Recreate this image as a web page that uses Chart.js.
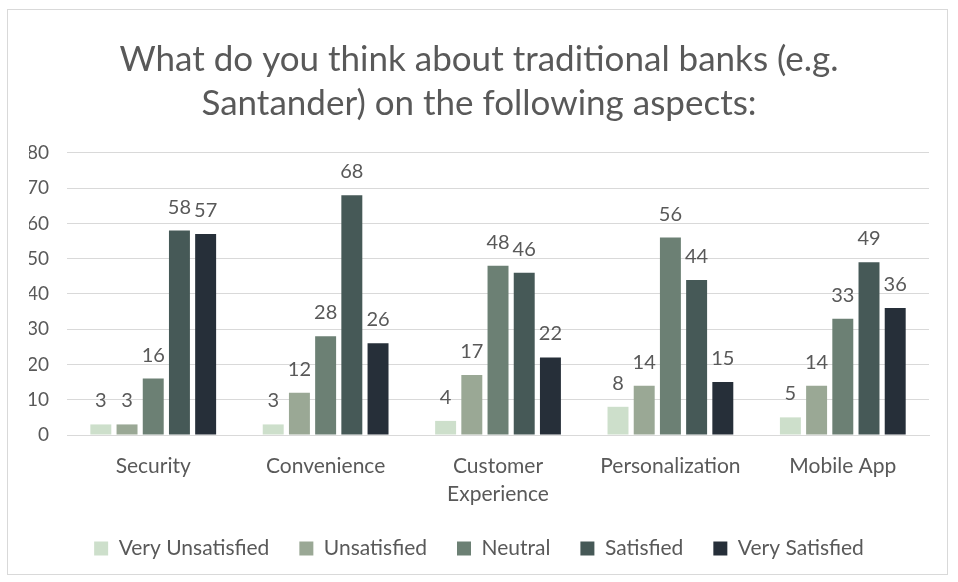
<!DOCTYPE html>
<html>
<head>
<meta charset="utf-8">
<script src="https://cdn.jsdelivr.net/npm/chart.js@4"></script>
<style>
  html, body { margin: 0; padding: 0; background: #fff; }
  #wrap { position: absolute; left: 0; top: 0; width: 958px; height: 582px; }
</style>
</head>
<body>
<div id="wrap"><canvas id="canvas"></canvas></div>
<script>
  const aspects = ['Security', 'Convenience', ['Customer', 'Experience'], 'Personalization', 'Mobile App'];
  const veryUnsatisfied = [3, 3, 4, 8, 5];
  const unsatisfied = [3, 12, 17, 14, 14];
  const neutral = [16, 28, 48, 56, 33];
  const satisfied = [58, 68, 46, 44, 49];
  const verySatisfied = [57, 26, 22, 15, 36];
  const yTicks = [0, 10, 20, 30, 40, 50, 60, 70, 80];

  const textColor = '#595959';
  const fontFamily = 'Lato, "Open Sans", sans-serif';

  // light frame round the whole chart
  const framePlugin = {
    id: 'frame',
    beforeDraw: function (chart) {
      const ctx = chart.ctx;
      ctx.save();
      ctx.strokeStyle = '#d9d9d9';
      ctx.lineWidth = 1;
      ctx.strokeRect(7.5, 9.5, 940, 565);
      ctx.restore();
    },
  };

  // value written above each bar
  const valuePlugin = {
    id: 'values',
    afterDatasetsDraw: function (chart) {
      const ctx = chart.ctx;
      ctx.save();
      ctx.fillStyle = textColor;
      ctx.font = '20px ' + fontFamily;
      ctx.textAlign = 'center';
      ctx.textBaseline = 'alphabetic';
      chart.data.datasets.forEach(function (ds, i) {
        const meta = chart.getDatasetMeta(i);
        meta.data.forEach(function (bar, j) {
          ctx.fillText(ds.data[j], bar.x, bar.y - 17);
        });
      });
      ctx.restore();
    },
  };

  const data = {
    labels: aspects,
    datasets: [
      { label: 'Very Unsatisfied', data: veryUnsatisfied, backgroundColor: '#cddfcb' },
      { label: 'Unsatisfied', data: unsatisfied, backgroundColor: '#9aa895' },
      { label: 'Neutral', data: neutral, backgroundColor: '#6c8074' },
      { label: 'Satisfied', data: satisfied, backgroundColor: '#465957' },
      { label: 'Very Satisfied', data: verySatisfied, backgroundColor: '#262f39' },
    ],
  };

  const options = {
    responsive: true,
    maintainAspectRatio: false,
    animation: false,
    layout: { padding: { left: 29, right: 29, top: 38, bottom: 13 } },
    datasets: {
      bar: { barPercentage: 0.8, categoryPercentage: 0.76 },
    },
    plugins: {
      title: {
        display: true,
        text: ['What do you think about traditional banks (e.g.', 'Santander) on the following aspects:'],
        color: textColor,
        font: { family: fontFamily, size: 35, weight: 'normal', lineHeight: 1.257 },
        padding: { top: 0, bottom: 27 },
      },
      legend: {
        position: 'bottom',
        labels: {
          color: textColor,
          font: { family: fontFamily, size: 21 },
          boxWidth: 14,
          boxHeight: 14,
          padding: 30,
        },
      },
      tooltip: { enabled: false },
    },
    scales: {
      x: {
        grid: { display: false, drawTicks: false },
        border: { color: '#d9d9d9' },
        // fixed height for the category band under the plot
        afterFit: function (axis) {
          axis.height = 73;
        },
        ticks: {
          color: textColor,
          font: { family: fontFamily, size: 21, lineHeight: 1.3 },
          maxRotation: 0,
          autoSkip: false,
          padding: 18,
        },
      },
      y: {
        min: 0,
        max: 80,
        afterBuildTicks: function (axis) {
          axis.ticks = yTicks.map(function (v) { return { value: v }; });
        },
        // labels may reach into the left padding
        afterFit: function (axis) {
          axis.width -= 20;
        },
        grid: { color: '#d9d9d9', drawTicks: false },
        border: { display: false },
        ticks: {
          color: textColor,
          font: { family: fontFamily, size: 19 },
          padding: 18,
        },
      },
    },
  };

  const canvas = document.getElementById('canvas');
  const chart = new Chart(canvas, {
    type: 'bar',
    data: data,
    options: options,
    plugins: [framePlugin, valuePlugin],
  });
</script>
</body>
</html>
